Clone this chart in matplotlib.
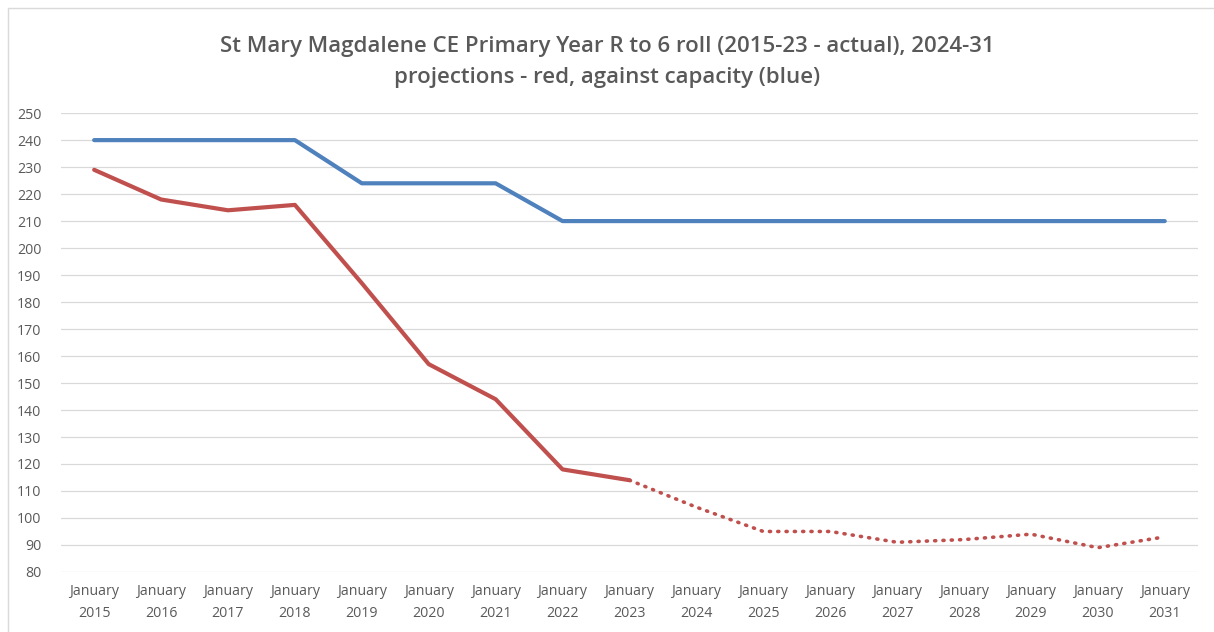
import matplotlib.pyplot as plt
from matplotlib.patches import Rectangle

years = list(range(2015, 2032))
labels = ['January\n%d' % y for y in years]

capacity = [240, 240, 240, 240, 224, 224, 224, 210, 210, 210, 210, 210, 210, 210, 210, 210, 210]
actual = [229, 218, 214, 216, 187, 157, 144, 118, 114]
projected = [114, 104, 95, 95, 91, 92, 94, 89, 93]

fig = plt.figure(figsize=(12.14, 6.32), dpi=100)
fig.patches.append(Rectangle((8 / 1214, -0.01), 1.02, 1 - 8 / 632 + 0.01,
                             transform=fig.transFigure, fill=False,
                             edgecolor='#d9d9d9', linewidth=1))
ax = fig.add_axes([0.050, 0.095, 0.937, 0.726])

x = list(range(len(years)))
ax.plot(x, capacity, color='#4F81BD', linewidth=3, solid_capstyle='round')
ax.plot(x[:len(actual)], actual, color='#C0504D', linewidth=3, solid_capstyle='round')
ax.plot(x[len(actual) - 1:], projected, color='#C0504D', linewidth=2.6,
        linestyle=(0, (0.3, 2.0)), dash_capstyle='round')

ax.set_xlim(-0.5, len(years) - 0.5)
ax.set_ylim(80, 250)
ax.set_yticks(range(80, 251, 10))
ax.set_xticks(x)
ax.set_xticklabels(labels, linespacing=1.6)
ax.grid(axis='y', color='#d9d9d9', linewidth=0.9)
ax.set_axisbelow(True)
for s in ax.spines.values():
    s.set_visible(False)
ax.tick_params(length=0, labelsize=10.2, labelcolor='#595959')
ax.tick_params(axis='x', pad=9)
ax.tick_params(axis='y', pad=14)
for t in ax.get_xticklabels() + ax.get_yticklabels():
    t.set_fontfamily('Open Sans')

fig.text(0.5, 0.926, 'St Mary Magdalene CE Primary Year R to 6 roll (2015-23 - actual), 2024-31',
         ha='center', va='center', fontsize=16, color='#595959', fontfamily='Open Sans', fontweight='semibold')
fig.text(0.5, 0.878, 'projections - red, against capacity (blue)',
         ha='center', va='center', fontsize=16, color='#595959', fontfamily='Open Sans', fontweight='semibold')

fig.savefig('out.png', dpi=100)
